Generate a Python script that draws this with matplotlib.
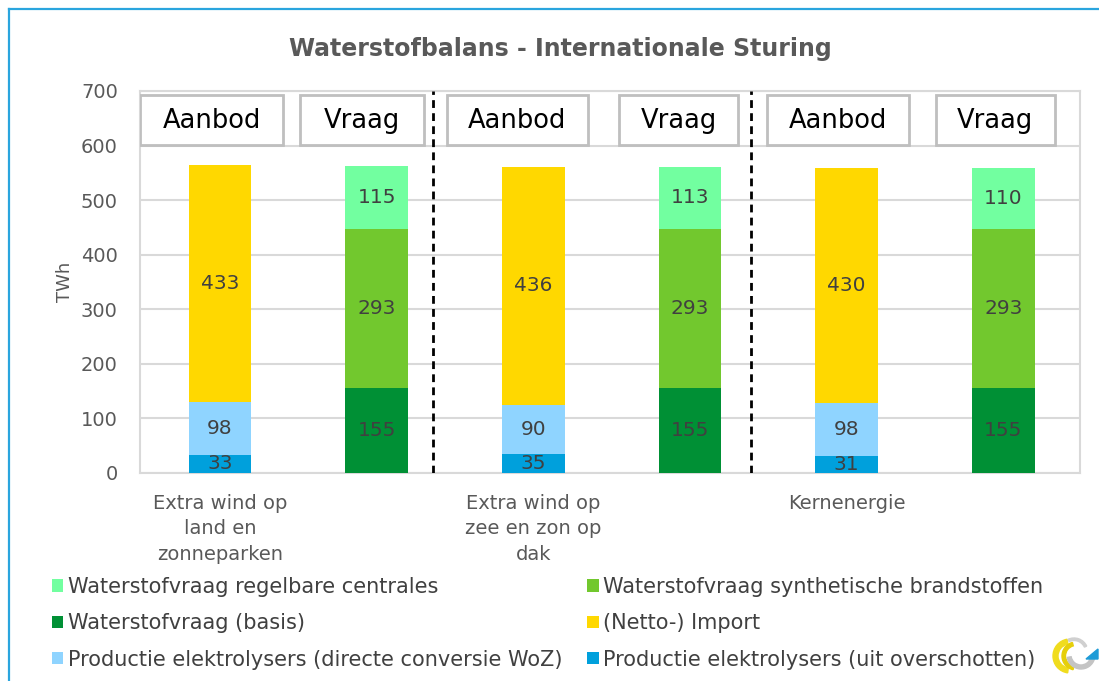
import numpy as np
import matplotlib
matplotlib.use("Agg")
import matplotlib.pyplot as plt
from matplotlib.patches import Rectangle, Wedge, Polygon
from matplotlib.lines import Line2D

plt.rcParams['font.family'] = ['DejaVu Sans']

# scenario names, shown under the "Aanbod" bar of each pair
scenarios = ["Extra wind op\nland en\nzonneparken",
             "Extra wind op\nzee en zon op\ndak",
             "Kernenergie"]
box_labels = ["Aanbod", "Vraag"]

# supply side (TWh)
prod_overschot = [33, 35, 31]
prod_direct = [98, 90, 98]
netto_import = [433, 436, 430]

# demand side (TWh)
vraag_basis = [155, 155, 155]
vraag_synth = [293, 293, 293]
vraag_regelbaar = [115, 113, 110]

names = {
    "regelbaar": "Waterstofvraag regelbare centrales",
    "synth": "Waterstofvraag synthetische brandstoffen",
    "basis": "Waterstofvraag (basis)",
    "import": "(Netto-) Import",
    "direct": "Productie elektrolysers (directe conversie WoZ)",
    "overschot": "Productie elektrolysers (uit overschotten)",
}
colors = {
    "regelbaar": "#72FFA0",
    "synth": "#72C82E",
    "basis": "#009035",
    "import": "#FFD800",
    "direct": "#8FD4FF",
    "overschot": "#00A0DC",
}

txt = "#595959"
lbl = "#404040"

fig = plt.figure(figsize=(10.99, 6.81), dpi=100)
ax = fig.add_axes([140 / 1099, 1 - 473 / 681, 940 / 1099, 382 / 681])

x_aan = np.arange(3) * 2
x_vr = x_aan + 1
w = 0.4

def stack(xs, series, keys):
    bottom = np.zeros(len(xs))
    bars = {}
    for vals, k in zip(series, keys):
        vals = np.array(vals)
        b = ax.bar(xs, vals, w, bottom=bottom, color=colors[k], zorder=3,
                   label=names[k])
        for xi, bi, vi in zip(xs, bottom, vals):
            ax.text(xi, bi + vi / 2, f"{vi}", ha="center", va="center",
                    fontsize=14.5, color=lbl, zorder=4)
        bars[k] = b
        bottom = bottom + vals
    return bars

handles = {}
handles.update(stack(x_aan, [prod_overschot, prod_direct, netto_import],
                     ["overschot", "direct", "import"]))
handles.update(stack(x_vr, [vraag_basis, vraag_synth, vraag_regelbaar],
                     ["basis", "synth", "regelbaar"]))

ax.set_xlim(-0.51, 5.49)
ax.set_ylim(0, 700)
ax.set_yticks(np.arange(0, 701, 100))
ax.yaxis.grid(True, color="#D9D9D9", lw=1.5, zorder=0)
ax.set_axisbelow(True)
ax.tick_params(axis="y", length=0, labelsize=14, labelcolor=txt, pad=16)
ax.tick_params(axis="x", length=0)
ax.set_xticks([])
for s in ax.spines.values():
    s.set_color("#D9D9D9")
    s.set_linewidth(1.5)
ax.set_ylabel("TWh", fontsize=13, color=txt, labelpad=5)

# category names below the axis
for xi, name in zip(x_aan, scenarios):
    ax.text(xi, -0.055, name, transform=ax.get_xaxis_transform(),
            ha="center", va="top", fontsize=14, color=txt, linespacing=1.42)

# dashed separators between scenarios
for xs in [1.36, 3.39]:
    ax.axvline(xs, color="black", lw=2, ls=(0, (2.8, 1.9)), zorder=5)

# header boxes with Aanbod / Vraag
box_edges = [(-0.51, 0.405), (0.513, 1.30), (1.447, 2.35),
             (2.55, 3.31), (3.49, 4.40), (4.57, 5.33)]
for i, (x0, x1) in enumerate(box_edges):
    ax.add_patch(Rectangle((x0, 601), x1 - x0, 92, facecolor="white",
                           edgecolor="#BFBFBF", lw=2, zorder=6))
    ax.text((x0 + x1) / 2, 645, box_labels[i % 2], ha="center", va="center",
            fontsize=18.5, color="black", zorder=7)

fig.text(0.51, 0.928, "Waterstofbalans - Internationale Sturing",
         ha="center", va="center", fontsize=17, fontweight="bold", color=txt)

order = ["regelbaar", "basis", "direct", "synth", "import", "overschot"]
leg = fig.legend([handles[k] for k in order], [names[k] for k in order],
                 ncol=2, loc="upper left",
                 bbox_to_anchor=(52 / 1099, 1 - 577 / 681),
                 frameon=False, fontsize=15, handlelength=0.55,
                 handleheight=0.55, handletextpad=0.2, labelspacing=0.78,
                 columnspacing=1.2, borderaxespad=0, borderpad=0)
for t in leg.get_texts():
    t.set_color(lbl)

# border lines at top and left of the figure
fig.add_artist(Line2D([9 / 1099, 1], [1 - 9 / 681] * 2, color="#2AA5DE",
                      lw=1.6, transform=fig.transFigure))
fig.add_artist(Line2D([9 / 1099] * 2, [0, 1 - 9 / 681], color="#2AA5DE",
                      lw=1.6, transform=fig.transFigure))

# small logo in the bottom right corner
lg = fig.add_axes([1050 / 1099, 2 / 681, 49 / 1099, 49 / 681])
lg.set_xlim(0, 49)
lg.set_ylim(0, 49)
lg.set_aspect("equal")
lg.axis("off")
lg.add_patch(Wedge((20, 23), 17, 100, 262, width=5, color="#F0DC1E"))
lg.add_patch(Wedge((26, 23), 14, 105, 258, width=3.5, color="#E6CF0A"))
lg.add_patch(Wedge((31, 24), 14, 190, 345, width=4, color="#C4C4C4"))
lg.add_patch(Wedge((24, 27), 14, 25, 115, width=2.5, color="#D0D0D0"))
lg.add_patch(Polygon([[36, 20], [48, 30], [48, 20]], color="#1E9BD7"))

fig.savefig("out.png", dpi=100)
